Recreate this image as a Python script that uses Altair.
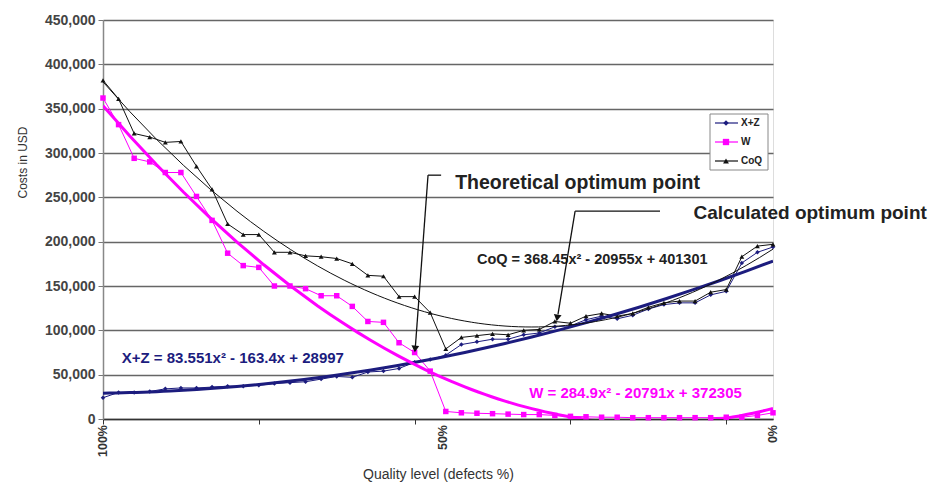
import altair as alt
import pandas as pd

# ---- data (values in thousand USD) ----
idx = list(range(1, 45))
series_names = ["X+Z", "W", "CoQ"]
xz = [24, 30, 30, 31, 34, 35, 35, 36, 37, 37,
      38, 40, 41, 42, 45, 48, 47, 53, 54, 57,
      64, 67, 72, 84, 87, 90, 90, 95, 97, 104,
      105, 112, 116, 113, 117, 124, 129, 131, 131, 140,
      144, 176, 188, 194]
w = [362, 332, 294, 290, 278, 278, 251, 224, 187, 173,
     171, 150, 150, 147, 139, 139, 127, 110, 109, 86,
     75, 54, 8.5, 7, 6.5, 6, 5.5, 5, 5, 4,
     3, 2.5, 2, 2, 1.5, 1.5, 1.5, 1.5, 1.5, 1.5,
     2, 2, 4, 7]
coq = [382, 361, 322, 318, 312, 313, 285, 259, 220, 208,
       208, 188, 188, 184, 183, 181, 175, 162, 161, 138,
       138, 120, 79, 92, 94, 96, 95, 100, 101, 110,
       108, 116, 119, 116, 119, 126, 131, 133, 133, 143,
       146, 183, 195, 197]
x_tick_values = [1, 11, 21, 31, 41]
x_labels = ["100%", "50%", "0%"]
x_label_pos = [1, 22.8, 44]
y_ticks = [0, 50000, 100000, 150000, 200000, 250000, 300000, 350000, 400000, 450000]

NAVY = "#1c1c7e"
MAG = "#ff00ff"
BLK = "#111111"
colors = [NAVY, MAG, BLK]
shapes = ["diamond", "square", "triangle-up"]
sizes = [20, 30, 24]

rows = []
for name, vals in zip(series_names, [xz, w, coq]):
    for i, v in zip(idx, vals):
        rows.append({"idx": i, "cost": v * 1000, "series": name})
df = pd.DataFrame(rows)

FONT = "Liberation Sans"

x_enc = alt.X("idx:Q",
              scale=alt.Scale(domain=[1, 44], nice=False, zero=False),
              axis=alt.Axis(values=x_tick_values, labels=False, tickSize=5,
                            tickColor="#333", domainColor="#333", domainWidth=1.5,
                            grid=False, title="Quality level (defects %)",
                            titleFont=FONT, titleFontSize=14, titleFontWeight="normal",
                            titleColor="#333", titleY=55, titleBaseline="middle"))
y_enc = alt.Y("cost:Q",
              scale=alt.Scale(domain=[0, 450000], nice=False),
              axis=alt.Axis(values=y_ticks, format=",d", labelFont=FONT,
                            labelFontSize=14, labelFontWeight="bold", labelColor="#444",
                            labelPadding=3, tickSize=5, tickColor="#777",
                            domainColor="#888", domainWidth=1.5,
                            grid=True, gridColor="#666666", gridWidth=1.6,
                            title="Costs in USD", titleFont=FONT, titleFontSize=12,
                            titleFontWeight="normal", titleColor="#333",
                            titleAngle=270, titleX=-81, titleY=142,
                            titleAlign="center", titleBaseline="middle"))

base = alt.Chart(df)

layers = []
first = True
for name, col, shp, sz in zip(series_names, colors, shapes, sizes):
    sub = base.transform_filter(alt.datum.series == name)
    if first:
        layers.append(sub.mark_line(strokeWidth=1, color=col).encode(x=x_enc, y=y_enc))
        first = False
    else:
        layers.append(sub.mark_line(strokeWidth=1, color=col).encode(x="idx:Q", y="cost:Q"))
    layers.append(sub.mark_point(filled=True, shape=shp, size=sz, color=col, opacity=1)
                  .encode(x="idx:Q", y="cost:Q"))

for name, col, sw in zip(series_names, colors, [3, 3, 1]):
    layers.append(
        base.transform_filter(alt.datum.series == name)
        .transform_regression("idx", "cost", method="poly", order=2, extent=[1, 44])
        .mark_line(color=col, strokeWidth=sw, clip=True)
        .encode(x="idx:Q", y="cost:Q"))

# x tick labels
layers.append(alt.Chart(pd.DataFrame({"idx": x_label_pos, "lab": x_labels})).mark_text(
    angle=270, align="right", baseline="middle", font=FONT, fontSize=12.5,
    fontWeight="bold", color="#333").encode(
    x="idx:Q", y=alt.value(405), text="lab:N"))


def txt(s, xv, yv, color, size, weight="bold"):
    d = pd.DataFrame({"idx": [xv], "cost": [yv], "lab": [s]})
    return alt.Chart(d).mark_text(align="left", baseline="middle", font=FONT,
                                  fontSize=size, fontWeight=weight, color=color).encode(
        x="idx:Q", y="cost:Q", text="lab:N")


def seg(x1, y1, x2, y2):
    d = pd.DataFrame({"idx": [x1], "cost": [y1], "idx2": [x2], "cost2": [y2]})
    return alt.Chart(d).mark_rule(color="#111", strokeWidth=1.3).encode(
        x="idx:Q", y="cost:Q", x2="idx2:Q", y2="cost2:Q")


def head(xv, yv, ang):
    d = pd.DataFrame({"idx": [xv], "cost": [yv]})
    return alt.Chart(d).mark_point(shape="triangle-down", filled=True, size=60,
                                   color="#111", opacity=1, angle=ang).encode(
        x="idx:Q", y="cost:Q")


layers += [
    txt("Theoretical optimum point", 23.6, 266000, "#222", 19.5),
    txt("Calculated optimum point", 38.9, 232000, "#222", 19),
    txt("CoQ = 368.45x² - 20955x + 401301", 25.0, 179000, "#222", 14.5),
    txt("X+Z = 83.551x² - 163.4x + 28997", 2.2, 69000, NAVY, 15),
    txt("W = 284.9x² - 20791x + 372305", 28.35, 29500, MAG, 15),
    seg(21.86, 275000, 22.7, 275000),
    seg(21.86, 275000, 21.05, 82000),
    head(21.03, 79000, 4),
    seg(31.3, 234500, 36.75, 234500),
    seg(31.3, 234500, 30.2, 118000),
    head(30.15, 114000, 9),
]

# ---- legend box (drawn by hand, pixel positions inside the plot) ----
LX0, LX1, LY0, LY1 = 607, 665, 94, 150
layers.append(alt.Chart().mark_rect(fill="white", stroke="#888", strokeWidth=1).encode(
    x=alt.value(LX0), x2=alt.value(LX1), y=alt.value(LY0), y2=alt.value(LY1)))
for k, (name, col, shp, sz) in enumerate(zip(series_names, colors, shapes, sizes)):
    ry = LY0 + 9 + k * 19
    layers.append(alt.Chart().mark_rule(color=col, strokeWidth=1.2).encode(
        x=alt.value(LX0 + 5), x2=alt.value(LX0 + 28), y=alt.value(ry)))
    layers.append(alt.Chart().mark_point(filled=True, shape=shp, size=sz + 10, color=col,
                                         opacity=1).encode(
        x=alt.value(LX0 + 16), y=alt.value(ry)))
    layers.append(alt.Chart().mark_text(text=name, align="left", baseline="middle",
                                        font=FONT, fontSize=10, fontWeight="bold",
                                        color="#222").encode(
        x=alt.value(LX0 + 31), y=alt.value(ry)))

chart = alt.layer(*layers).properties(
    width=670, height=399,
    padding={"left": 95, "top": 12, "right": 161, "bottom": 66},
    autosize=alt.AutoSizeParams(type="none"),
).configure_view(stroke="#888", strokeWidth=1).configure(background="white")

chart.save("out.html", embed_options={"renderer": "svg", "actions": False})
